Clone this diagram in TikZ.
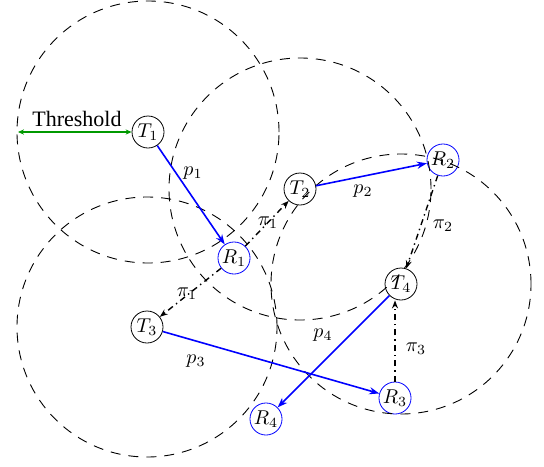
\documentclass[tikz,border=0pt]{standalone}
\usepackage{fontspec}
\newfontfamily\thrfont{Liberation Serif}
\usetikzlibrary{arrows.meta}
\begin{document}
\begin{tikzpicture}[x=0.5pt,y=-0.5pt,
  tnode/.style={circle,draw=black,inner sep=0.5pt,minimum size=16pt},
  rnode/.style={circle,draw=blue,inner sep=0.5pt,minimum size=16pt},
  rangecirc/.style={draw=black,line width=0.45pt,dash pattern=on 5pt off 4pt},
  pline/.style={draw=blue,line width=0.8pt,-{Stealth[length=5pt,width=3.6pt]}},
  piline/.style={draw=black,line width=0.7pt,dash pattern=on 3pt off 2pt on 0.7pt off 2pt,-{Stealth[length=4pt,width=3pt]}},
  thr/.style={draw=green!60!black,line width=0.6pt,{Stealth[length=3pt,width=2.6pt]}-{Stealth[length=3pt,width=2.6pt]}},
  lab/.style={inner sep=0pt}
]
\useasboundingbox (0,0) rectangle (544,466);

% nodes
\node[tnode] (T1) at (148,132) {$T_1$};
\node[rnode] (R1) at (234,258) {$R_1$};
\node[tnode] (T2) at (300,189) {$T_2$};
\node[rnode] (R2) at (443,160) {$R_2$};
\node[tnode] (T3) at (147,327) {$T_3$};
\node[tnode] (T4) at (401,284) {$T_4$};
\node[rnode] (R3) at (395,398) {$R_3$};
\node[rnode] (R4) at (266,419) {$R_4$};

% ranges
\draw[rangecirc] (T1) circle[radius=65.5pt];
\draw[rangecirc] (T2) circle[radius=65.5pt];
\draw[rangecirc] (T3) circle[radius=65pt];
\draw[rangecirc] (T4) circle[radius=65pt];

% threshold
\coordinate (thl) at (18,132);
\draw[thr] (thl) -- (T1.west);
\node[lab] (thtext) at (77,119) {\thrfont\fontsize{11}{13}\selectfont Threshold};

% data links
\draw[pline] (T1) -- (R1);
\draw[pline] (T2) -- (R2);
\draw[pline] (T3) -- (R3);
\draw[pline] (T4) -- (R4);

% interference links
\draw[piline] (R1) -- (T2);
\draw[piline] (R1) -- (T3);
\draw[piline] (R2) -- (T4);
\draw[piline] (R3.north) -- (R3.north |- T4.south);

% labels
\node[lab] (lp1) at (193,173) {$p_1$};
\node[lab] (lp2) at (363,191) {$p_2$};
\node[lab] (lp3) at (196,361) {$p_3$};
\node[lab] (lp4) at (323,335) {$p_4$};
\node[lab] (lpi1a) at (268,223) {$\pi_1$};
\node[lab] (lpi1b) at (187,294) {$\pi_1$};
\node[lab] (lpi2) at (443,226) {$\pi_2$};
\node[lab] (lpi3) at (416,349) {$\pi_3$};
\end{tikzpicture}
\end{document}
